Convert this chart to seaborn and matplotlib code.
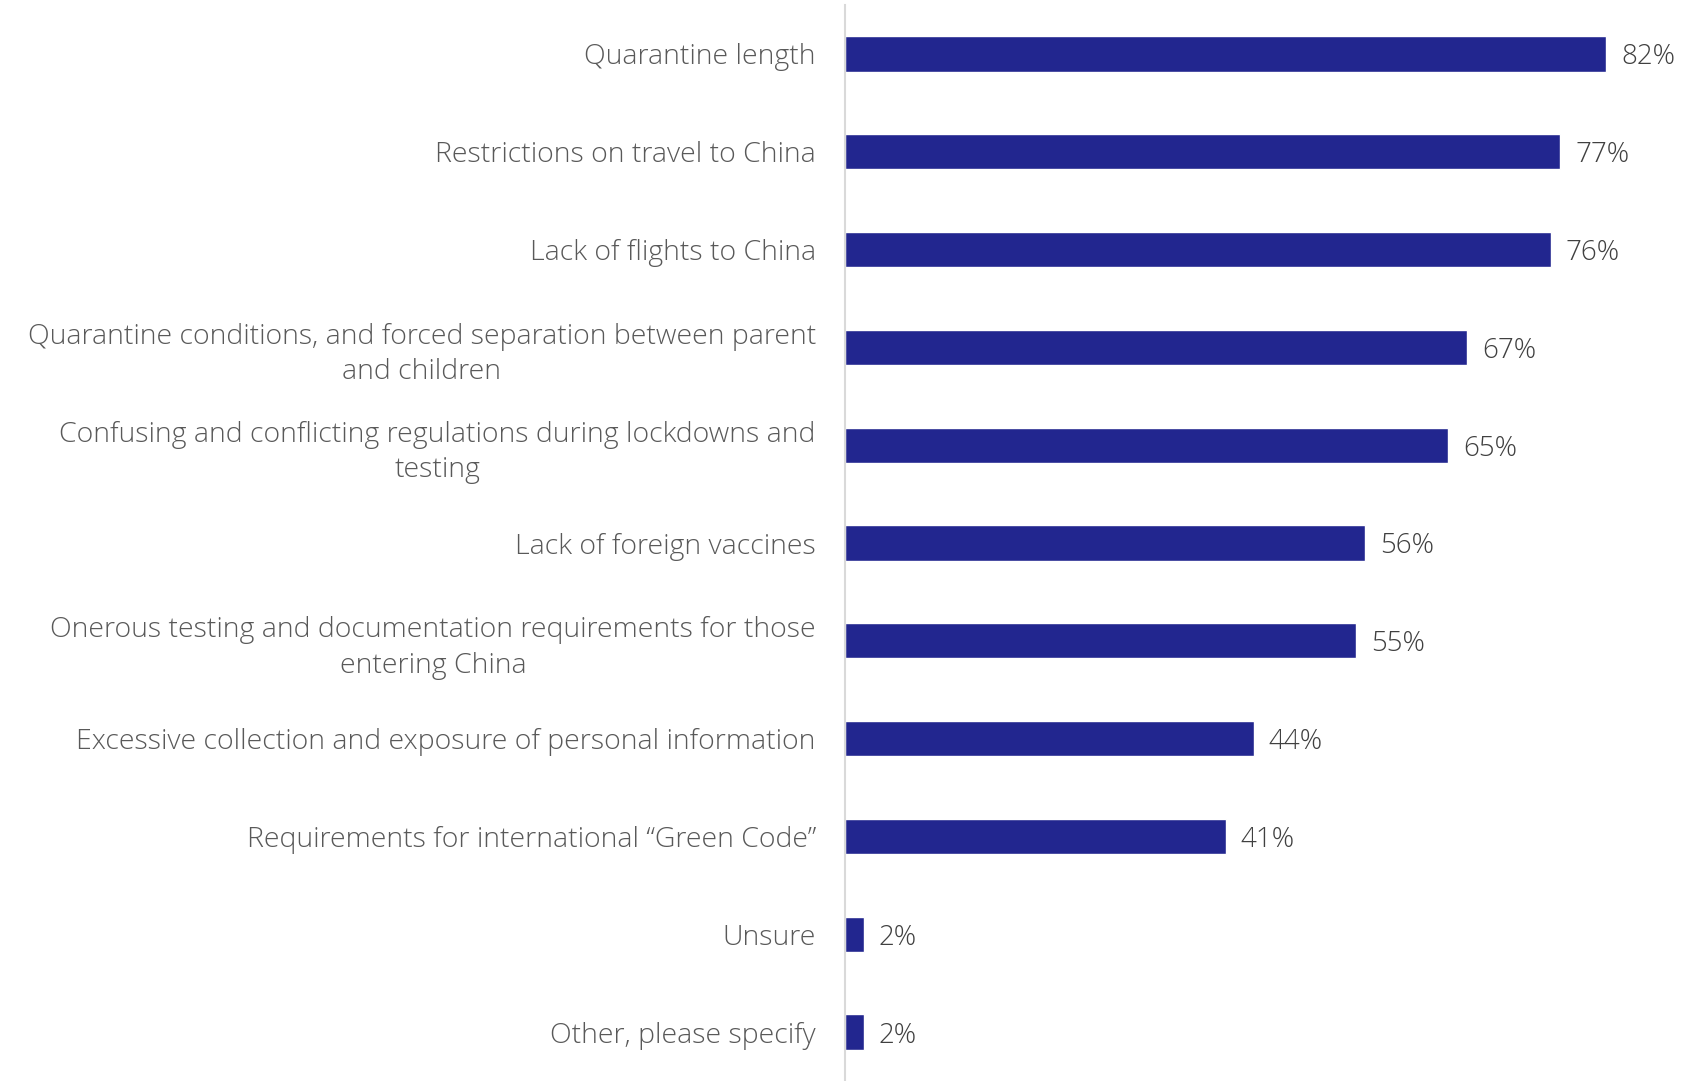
import seaborn as sns
import matplotlib.pyplot as plt
import pandas as pd

categories = [
    'Quarantine length',
    'Restrictions on travel to China',
    'Lack of flights to China',
    'Quarantine conditions, and forced separation between parent\nand children',
    'Confusing and conflicting regulations during lockdowns and\ntesting',
    'Lack of foreign vaccines',
    'Onerous testing and documentation requirements for those\nentering China',
    'Excessive collection and exposure of personal information',
    'Requirements for international \u201cGreen Code\u201d',
    'Unsure',
    'Other, please specify',
]
values = [82, 77, 76, 67, 65, 56, 55, 44, 41, 2, 2]

bar_color = '#22268f'
label_color = '#595959'
value_color = '#404040'

df = pd.DataFrame({'reason': categories, 'pct': values})

sns.set_theme(style='white')
plt.rcParams['font.family'] = ['Open Sans', 'DejaVu Sans']

f = plt.figure(figsize=(17.01, 10.81), dpi=100)
ax = f.add_axes([845 / 1701, 0.0, 1 - 845 / 1701, 1 - 5 / 1081])

sns.barplot(data=df, x='pct', y='reason', color=bar_color, width=0.36,
            saturation=1, ax=ax)

txts = ax.bar_label(ax.containers[0], labels=[f'{v}%' for v in values],
                    padding=11, fontsize=20, color=value_color,
                    fontweight='light')
for t in txts:
    t.set_va('center_baseline')

ax.set_xlim(0, 92.2)
ax.set_ylim(10.5, -0.5)
ax.set_xlabel('')
ax.set_ylabel('')
ax.set_xticks([])

for side in ['top', 'right', 'bottom']:
    ax.spines[side].set_visible(False)
ax.spines['left'].set_color('#d9d9d9')
ax.spines['left'].set_linewidth(1.5)

ax.tick_params(axis='y', length=0, pad=21, labelsize=20.5, labelcolor=label_color)
for t in ax.get_yticklabels():
    t.set_multialignment('center')
    t.set_linespacing(1.35)
    t.set_fontweight('light')

plt.savefig('out.png', dpi=100)
